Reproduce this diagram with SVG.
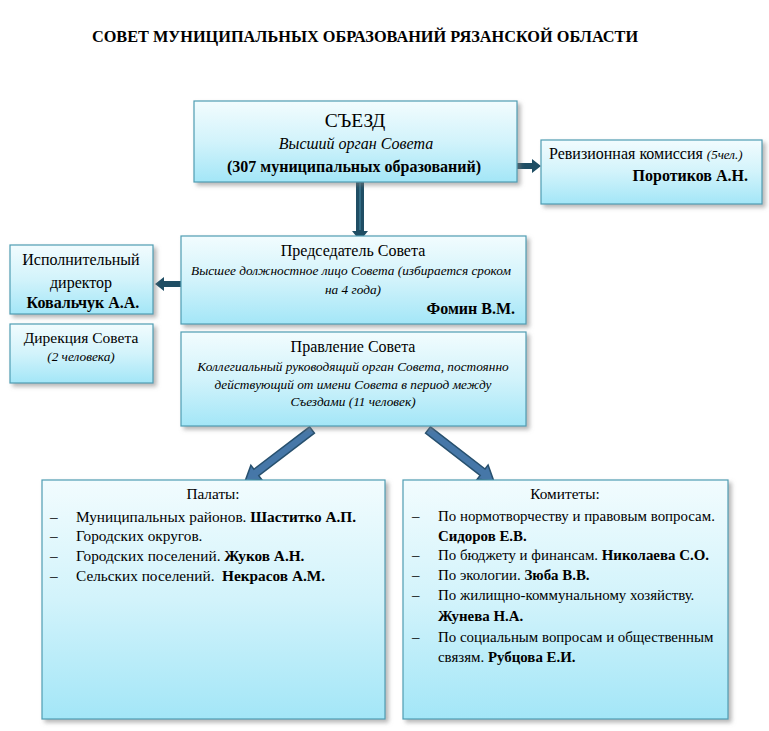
<svg xmlns="http://www.w3.org/2000/svg" width="769" height="731" viewBox="0 0 769 731">
<defs>
<linearGradient id="g" x1="0" y1="0" x2="0" y2="1">
<stop offset="0" stop-color="#f2fcfe"/>
<stop offset="0.5" stop-color="#d2f3fb"/>
<stop offset="1" stop-color="#a3e6f7"/>
</linearGradient>
<filter id="sh" x="-10%" y="-10%" width="130%" height="130%">
<feDropShadow dx="3" dy="3" stdDeviation="2" flood-color="#7a7a7a" flood-opacity="0.55"/>
</filter>
</defs>
<style>
.box{fill:url(#g);stroke:#4f9db3;stroke-width:1.2;filter:url(#sh)}
text{font-family:"Liberation Serif","Times New Roman",serif;fill:#000}
.n{font-size:16px}
.l{font-size:15.3px}
.k{font-size:14.9px}
.i{font-size:13.3px;font-style:italic}
.b{font-weight:bold}
.c{text-anchor:middle}
.r{text-anchor:end}
.arr{fill:#1f4e64}
.darr{fill:#4677a8;stroke:#27506e;stroke-width:1.5;stroke-linejoin:miter}
</style>
<rect width="769" height="731" fill="#fff"/>
<text x="365" y="42" class="c b" style="font-size:16.3px">СОВЕТ МУНИЦИПАЛЬНЫХ ОБРАЗОВАНИЙ РЯЗАНСКОЙ ОБЛАСТИ</text>

<g id="connectors">
<polygon class="arr" points="356,182 364,182 364,231 368,231 360,241 352,231 356,231"/>
<line x1="360" y1="183" x2="360" y2="230" stroke="#4a8aa5" stroke-width="1"/>
<polygon class="arr" points="517,163 532,163 532,159 541,166 532,173 532,169 517,169"/>
<polygon class="arr" points="181,281 164,281 164,277 155,284 164,291 164,287 181,287"/>
<g transform="translate(312,430) rotate(142.7)">
<polygon class="darr" points="0,-4 70,-4 70,-9 84,0 70,9 70,4 0,4"/>
</g>
<g transform="translate(428,430) rotate(37.7)">
<polygon class="darr" points="0,-4 69,-4 69,-9 83,0 69,9 69,4 0,4"/>
</g>
</g>

<g id="sezd">
<rect class="box" x="194" y="101" width="323" height="81"/>
<text x="355" y="127" class="c" style="font-size:19.5px">СЪЕЗД</text>
<text x="356" y="149" class="c" style="font-size:16px;font-style:italic">Высший орган Совета</text>
<text x="354" y="172" class="c b" style="font-size:16px">(307 муниципальных образований)</text>
</g>

<g id="revizion">
<rect class="box" x="541" y="140" width="221" height="64"/>
<text x="549" y="159" class="n">Ревизионная комиссия <tspan style="font-size:13px;font-style:italic">(5чел.)</tspan></text>
<text x="748" y="181" class="r b" style="font-size:16px">Поротиков А.Н.</text>
</g>

<g id="ispdir">
<rect class="box" x="10" y="245" width="143" height="69"/>
<text x="81" y="265" class="c n">Исполнительный</text>
<text x="81" y="288" class="c n">директор</text>
<text x="83" y="308" class="c b" style="font-size:16px">Ковальчук А.А.</text>
</g>

<g id="direkcia">
<rect class="box" x="10" y="324" width="143" height="59"/>
<text x="81" y="343" class="c" style="font-size:15.5px">Дирекция Совета</text>
<text x="81" y="361" class="c i">(2 человека)</text>
</g>

<g id="predsedatel">
<rect class="box" x="181" y="236" width="345" height="88"/>
<text x="353" y="256" class="c n">Председатель Совета</text>
<text x="351" y="275" class="c i">Высшее должностное лицо Совета (избирается сроком</text>
<text x="353" y="294" class="c i">на 4 года)</text>
<text x="515" y="314" class="r b" style="font-size:16px">Фомин В.М.</text>
</g>

<g id="pravlenie">
<rect class="box" x="181" y="332" width="345" height="94"/>
<text x="353" y="352" class="c n">Правление Совета</text>
<text x="353" y="371" class="c i">Коллегиальный руководящий орган Совета, постоянно</text>
<text x="353" y="389" class="c i">действующий от имени Совета в период между</text>
<text x="353" y="406" class="c i">Съездами (11 человек)</text>
</g>

<g id="palaty">
<rect class="box" x="42" y="480" width="343" height="239"/>
<text x="213" y="499" class="c l">Палаты:</text>
<text x="50" y="522" class="l">–</text><text x="76" y="522" class="l">Муниципальных районов. <tspan class="b">Шаститко А.П.</tspan></text>
<text x="50" y="541" class="l">–</text><text x="76" y="541" class="l">Городских округов.</text>
<text x="50" y="561" class="l">–</text><text x="76" y="561" class="l">Городских поселений. <tspan class="b">Жуков А.Н.</tspan></text>
<text x="50" y="581" class="l">–</text><text x="76" y="581" class="l" xml:space="preserve">Сельских поселений.  <tspan class="b">Некрасов А.М.</tspan></text>
</g>

<g id="komitety">
<rect class="box" x="403" y="480" width="325" height="239"/>
<text x="565" y="499" class="c l">Комитеты:</text>
<text x="412" y="521" class="k">–</text><text x="438" y="521" class="k">По нормотворчеству и правовым вопросам.</text>
<text x="438" y="541" class="k b">Сидоров Е.В.</text>
<text x="412" y="560" class="k">–</text><text x="438" y="560" class="k">По бюджету и финансам. <tspan class="b">Николаева С.О.</tspan></text>
<text x="412" y="580" class="k">–</text><text x="438" y="580" class="k">По экологии. <tspan class="b">Зюба В.В.</tspan></text>
<text x="412" y="600" class="k">–</text><text x="438" y="600" class="k">По жилищно-коммунальному хозяйству.</text>
<text x="438" y="621" class="k b">Жунева Н.А.</text>
<text x="412" y="642" class="k">–</text><text x="438" y="642" class="k">По социальным вопросам и общественным</text>
<text x="438" y="662" class="k">связям. <tspan class="b">Рубцова Е.И.</tspan></text>
</g>
</svg>
